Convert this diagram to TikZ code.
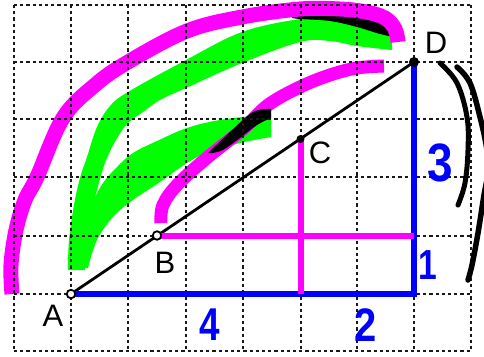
\documentclass[tikz,border=0pt]{standalone}
\usepackage{fontspec}
\setmainfont{Liberation Sans}
\definecolor{mag}{RGB}{255,0,255}
\definecolor{grn}{RGB}{0,255,0}
\definecolor{blu}{RGB}{0,0,255}
\tikzset{
  gridline/.style={line width=2pt, dash pattern=on 3.2pt off 3pt, black!90},
  segline/.style={line width=2.8pt, black},
  blueline/.style={blu, line width=6pt, line join=miter},
  magline/.style={mag, line width=6pt},
  magarc/.style={mag, line width=#1},
  bracket/.style={black, line width=5pt, line cap=round},
  hollowdot/.style={circle, draw=black, fill=white, line width=1.8pt, minimum size=8.5pt, inner sep=0pt},
  soliddot/.style={circle, fill=black, minimum size=#1, inner sep=0pt},
  lbl/.style={font=\fontsize{31}{31}\selectfont, inner sep=0pt},
  num/.style={text=blu, font=\fontsize{#1}{#1}\selectfont\bfseries, inner sep=0pt}
}
\begin{document}
\begin{tikzpicture}[x=1pt,y=-1pt]
\fill[white] (0,0) rectangle (484,356);
\useasboundingbox (0,0) rectangle (484,356);
\clip (0,0) rectangle (484,356);

% green strokes
\fill[grn] plot[smooth, tension=0.6] coordinates {(68,270) (69,240) (74,205) (80,178) (87,157) (97,127) (110,106) (128,92) (186,60) (242,32) (300,19) (330,19) (357,26) (392,34)}
  -- (392,50)
  -- plot[smooth, tension=0.6] coordinates {(392,50) (357,46) (330,41) (300,42) (242,63) (186,88) (160,100) (143,112) (128,123) (116,140) (105,163) (97,190) (92,210) (88,235) (85,270)} -- cycle;
\fill[grn] plot[smooth, tension=0.6] coordinates {(84,268) (82,240) (86,215) (92,203) (103,183) (117,167) (133,153) (157,141) (187,128) (220,120) (271,114)}
  -- (271,137)
  -- plot[smooth, tension=0.6] coordinates {(271,137) (240,143) (207,153) (187,163) (160,182) (133,200) (113,217) (97,240) (88,268)} -- cycle;

% black sliver on the outer band
\fill[black] plot[smooth, tension=0.6] coordinates {(292,15) (330,14) (357,17) (385,22) (394,25)}
  -- (394,37)
  -- plot[smooth, tension=0.6] coordinates {(394,37) (380,34) (357,27) (330,21) (300,19) (292,18)} -- cycle;

% magenta arcs
\draw[magarc=15pt] plot[smooth, tension=0.6] coordinates {(12,294) (11,265) (16,230) (25,200) (37,177) (63,118) (95,85) (128,62) (187,31) (242,17) (300,9) (340,9) (366,12) (385,18) (395,29) (398,42)};
\draw[magarc=13pt] plot[smooth, tension=0.6] coordinates {(161,223) (163,205) (178,184) (208,157) (243,129) (268,105) (300,87) (330,75) (357,68) (384,66)};

% black blade on the inner band
\fill[black] plot[smooth, tension=0.6] coordinates {(208,153) (230,132) (253,112) (271,109)}
  -- (271,118)
  -- plot[smooth, tension=0.6] coordinates {(271,118) (257,125) (240,138) (223,150) (212,153)} -- cycle;

% grid
\foreach \gx in {14,71,128,186,243,300.5,357,414,471}
  \draw[gridline] (\gx,5) -- (\gx,351);
\foreach \gy in {5,62,118.5,177,235.5,294,351}
  \draw[gridline] (14,\gy) -- (471,\gy);

% brackets
\draw[bracket] plot[smooth, tension=0.6] coordinates {(440,63) (457,83) (467,117) (468,150) (465,183) (458,205)};
\draw[bracket, line width=5.5pt] plot[smooth, tension=0.6] coordinates {(457,67) (470,83) (480,117) (487,150) (488,172) (484,195) (478,233) (472,265) (468,280)};

% points
\coordinate (A) at (71,294);
\coordinate (B) at (157,235.5);
\coordinate (C) at (300.5,139);
\coordinate (D) at (414,62);
\coordinate (E) at (414,294);
\coordinate (F) at (414,235.5);
\coordinate (G) at (300.5,294);

\draw[segline] (A) -- (D);
\draw[blueline] (A) -- (E) -- (D);
\draw[magline] (B) -- (F);
\draw[magline] (C) -- (G);

\node[hollowdot] (Adot) at (A) {};
\node[hollowdot] (Bdot) at (B) {};
\node[soliddot=8pt] (Cdot) at (C) {};
\node[soliddot=10pt] (Ddot) at (D) {};

% labels
\node[lbl] (labA) at (53,316) {A};
\node[lbl] (labB) at (165,263) {B};
\node[lbl] (labC) at (320,153) {C};
\node[lbl] (labD) at (436,43) {D};

\node[num=46] (n4) at (210,325) {\scalebox{0.8}[1]{4}};
\node[num=47] (n2) at (366,325) {\scalebox{0.85}[1]{2}};
\node[num=54] (n3) at (440,163) {\scalebox{0.85}[1]{3}};
\node[num=42] (n1) at (428,265) {\scalebox{0.8}[1]{1}};
\end{tikzpicture}
\end{document}
